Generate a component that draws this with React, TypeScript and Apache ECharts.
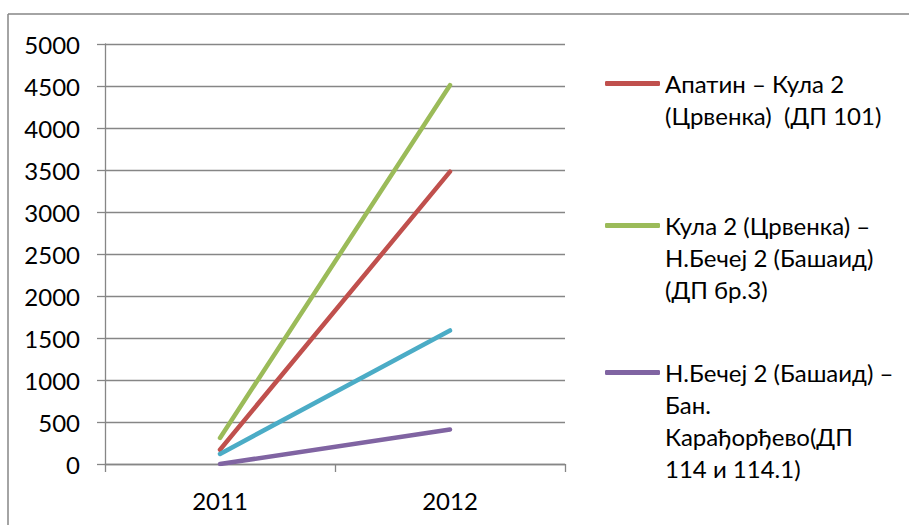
import React, { useEffect, useRef } from "react";
import * as echarts from "echarts";

const categories = ["2011", "2012"];
const seriesNames = [
  "Апатин – Кула 2 (Црвенка)  (ДП 101)",
  "Кула 2 (Црвенка) – Н.Бечеј 2 (Башаид) (ДП бр.3)",
  "Н.Бечеј 2 (Башаид) – Бан. Карађорђево(ДП 114 и 114.1)",
  "Серија 4",
];
const legendLines = [
  ["Апатин – Кула 2", "(Црвенка)  (ДП 101)"],
  ["Кула 2 (Црвенка) –", "Н.Бечеј 2 (Башаид)", "(ДП бр.3)"],
  ["Н.Бечеј 2 (Башаид) –", "Бан.", "Карађорђево(ДП", "114 и 114.1)"],
];
const redValues = [170, 3480];
const greenValues = [310, 4510];
const purpleValues = [0, 410];
const cyanValues = [120, 1590];
const colors = ["#C0504D", "#9BBB59", "#8064A2", "#4BACC6"];

const FONT = "Lato";
const FS = 24;
const LH = 32;

export default function App() {
  const ref = useRef<HTMLDivElement>(null);
  useEffect(() => {
    if (!ref.current) return;
    const chart = echarts.init(ref.current, null, { renderer: "svg" });
    const values = [redValues, greenValues, purpleValues, cyanValues];
    const legendTops = [81, 223, 370];
    const legends = legendLines.map((lines, i) => {
      const n = lines.length;
      const total = (2 * n - 1) * LH;
      const padded = Array(n - 1).fill(" ").concat(lines);
      return {
        orient: "vertical",
        left: 605,
        top: legendTops[i] - total / 2 + 2.5,
        padding: 0,
        icon: "roundRect",
        itemWidth: 55,
        itemHeight: 5,
        selectedMode: false,
        data: [seriesNames[i]],
        formatter: () => padded.join("\n"),
        textStyle: {
          fontFamily: FONT,
          fontSize: FS,
          color: "#000",
          lineHeight: LH,
        },
      };
    });
    chart.setOption({
      animation: false,
      textStyle: { fontFamily: FONT },
      graphic: [
        { type: "line", shape: { x1: 8, y1: 14, x2: 909, y2: 14 }, style: { stroke: "#868686", lineWidth: 1.5 } },
        { type: "line", shape: { x1: 8, y1: 14, x2: 8, y2: 525 }, style: { stroke: "#868686", lineWidth: 1.5 } },
      ],
      legend: legends,
      grid: { left: 105, right: 344, top: 44, bottom: 61, containLabel: false },
      xAxis: {
        type: "category",
        data: categories,
        boundaryGap: true,
        axisLine: { lineStyle: { color: "#868686", width: 1.3 } },
        axisTick: { show: true, length: 8, alignWithLabel: false, lineStyle: { color: "#868686", width: 1.3 } },
        axisLabel: { fontFamily: FONT, fontSize: FS, color: "#000", margin: 24 },
        splitLine: { show: false },
      },
      yAxis: {
        type: "value",
        min: 0,
        max: 5000,
        interval: 500,
        axisLine: { show: true, lineStyle: { color: "#868686", width: 1.3 } },
        axisTick: { show: true, length: 8, lineStyle: { color: "#868686", width: 1.3 } },
        axisLabel: {
          fontFamily: FONT,
          fontSize: FS,
          color: "#000",
          margin: 25,
          formatter: (v: number) => String(v),
        },
        splitLine: { show: true, lineStyle: { color: "#868686", width: 1.3 } },
      },
      series: values.map((v, i) => ({
        name: seriesNames[i],
        type: "line",
        data: v,
        showSymbol: false,
        symbol: "none",
        color: colors[i],
        lineStyle: { width: 4.5, color: colors[i], cap: "round" },
      })),
    });
    return () => chart.dispose();
  }, []);
  return (
    <div
      ref={ref}
      style={{ position: "fixed", left: 0, top: 0, width: 909, height: 525, background: "#fff" }}
    />
  );
}
